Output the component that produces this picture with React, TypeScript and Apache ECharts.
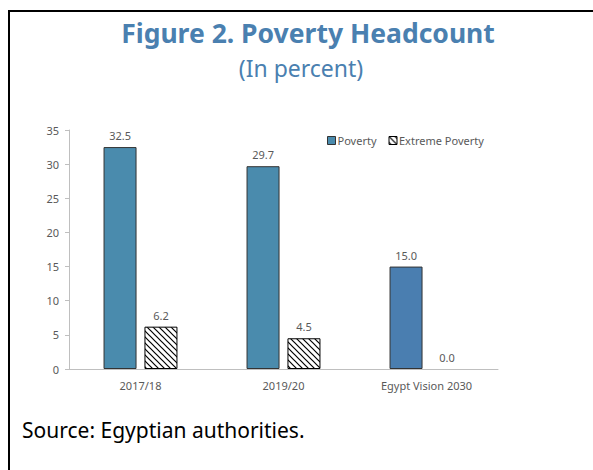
import React, { useEffect, useRef } from "react";
import * as echarts from "echarts";

const categories = ["2017/18", "2019/20", "Egypt Vision 2030"];
const poverty = [32.5, 29.7, 15.0];
const extremePoverty = [6.2, 4.5, 0.0];
const yTicks = { min: 0, max: 35, interval: 5 };

function makeHatch(): string {
  const c = document.createElement("canvas");
  const s = 6;
  c.width = s;
  c.height = s;
  const ctx = c.getContext("2d");
  if (ctx) {
    ctx.fillStyle = "#ffffff";
    ctx.fillRect(0, 0, s, s);
    ctx.strokeStyle = "#000000";
    ctx.lineWidth = 1.2;
    ctx.beginPath();
    ctx.moveTo(-1, -1);
    ctx.lineTo(s + 1, s + 1);
    ctx.moveTo(-1, s - 1);
    ctx.lineTo(1, s + 1);
    ctx.moveTo(s - 1, -1);
    ctx.lineTo(s + 1, 1);
    ctx.stroke();
  }
  return c.toDataURL();
}

export default function App() {
  const ref = useRef<HTMLDivElement>(null);
  useEffect(() => {
    if (!ref.current) return;
    const chart = echarts.init(ref.current, undefined, { renderer: "svg" });
    const hatch = { image: makeHatch(), repeat: "repeat" };
    const font = "'Noto Sans', 'Open Sans', sans-serif";
    const povColors = ["#4A8BAD", "#4A8BAD", "#4A7EB0"];
    const labelCfg = {
      show: true,
      position: "top",
      distance: 6,
      color: "#595959",
      fontSize: 11,
      formatter: (p: any) => Number(p.value).toFixed(1),
    };
    chart.setOption({
      animation: false,
      textStyle: { fontFamily: font },
      graphic: [
        {
          type: "rect",
          shape: { x: 9, y: 11, width: 700, height: 600 },
          style: { fill: "none", stroke: "#000", lineWidth: 2 },
          silent: true,
        },
        {
          type: "text",
          x: 308,
          y: 33,
          style: {
            text: "Figure 2. Poverty Headcount",
            fill: "#4A80B0",
            font: `bold 26.5px ${font}`,
            textAlign: "center",
            textVerticalAlign: "middle",
          },
        },
        {
          type: "text",
          x: 301,
          y: 68,
          style: {
            text: "(In percent)",
            fill: "#4A80B0",
            font: `23px ${font}`,
            textAlign: "center",
            textVerticalAlign: "middle",
          },
        },
        {
          type: "text",
          x: 22,
          y: 430,
          style: {
            text: "Source: Egyptian authorities.",
            fill: "#000",
            font: `21px ${font}`,
            textAlign: "left",
            textVerticalAlign: "middle",
          },
        },
      ],
      legend: {
        left: 322,
        top: 130,
        itemWidth: 8,
        itemHeight: 8,
        itemGap: 12,
        icon: "rect",
        textStyle: { fontSize: 11, color: "#595959", padding: [0, 0, 0, -3] },
        data: [
          { name: "Poverty", itemStyle: { color: "#4A8BAD", borderColor: "#333", borderWidth: 1 } },
          { name: "Extreme Poverty", itemStyle: { color: hatch, borderColor: "#000", borderWidth: 1 } },
        ],
      },
      grid: { left: 69, right: 95, top: 130, bottom: 101, containLabel: false },
      xAxis: {
        type: "category",
        data: categories,
        axisLine: { lineStyle: { color: "#BFBFBF" } },
        axisTick: { inside: true, length: 4, lineStyle: { color: "#BFBFBF" } },
        axisLabel: { color: "#595959", fontSize: 11, margin: 11 },
      },
      yAxis: {
        type: "value",
        min: yTicks.min,
        max: yTicks.max,
        interval: yTicks.interval,
        splitLine: { show: false },
        axisLine: { show: true, lineStyle: { color: "#BFBFBF" } },
        axisTick: { show: true, length: 4, lineStyle: { color: "#BFBFBF" } },
        axisLabel: { color: "#595959", fontSize: 11, margin: 10 },
      },
      series: [
        {
          name: "Poverty",
          type: "bar",
          barWidth: 33,
          barGap: "24%",
          data: poverty.map((v, i) => ({
            value: v,
            itemStyle: { color: povColors[i], borderColor: "#333", borderWidth: 1 },
          })),
          label: labelCfg,
        },
        {
          name: "Extreme Poverty",
          type: "bar",
          barWidth: 33,
          data: extremePoverty.map((v) => ({
            value: v,
            itemStyle: { color: hatch, borderColor: "#000", borderWidth: v === 0 ? 0 : 1 },
          })),
          label: labelCfg,
        },
      ],
    });
    return () => chart.dispose();
  }, []);
  return (
    <div
      ref={ref}
      style={{ position: "absolute", left: 0, top: 0, width: 593, height: 470, background: "#fff" }}
    />
  );
}
